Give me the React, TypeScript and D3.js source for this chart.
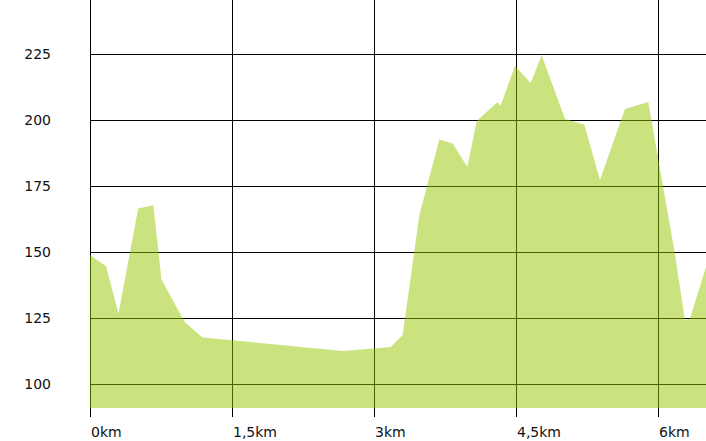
import React from "react";
import * as d3 from "d3";

const distanceKm = [0, 0.169, 0.301, 0.509, 0.669, 0.755, 1.0, 1.188, 2.676, 3.176, 3.303, 3.479, 3.69, 3.831, 3.986, 4.085, 4.302, 4.338, 4.489, 4.655, 4.771, 5.018, 5.221, 5.387, 5.651, 5.897, 6.169, 6.285, 6.338, 6.507];
const elevation = [148.9, 144.7, 126.8, 166.5, 167.8, 139.7, 123.6, 117.7, 112.6, 114.1, 118.6, 164, 192.7, 191.2, 182.3, 199.7, 206.8, 205.5, 220.5, 214.1, 224.6, 200.4, 198.4, 177.3, 204.2, 206.9, 151.4, 124.2, 124.9, 144.4];
const yTicks = [100, 125, 150, 175, 200, 225];
const xTicks = [0, 1.5, 3, 4.5, 6];
const xTickLabels = ["0km", "1,5km", "3km", "4,5km", "6km"];

const W = 706;
const H = 441;

export default function App() {
  const x = d3.scaleLinear().domain([0, 6.507]).range([90, 706]);
  const y = d3.scaleLinear().domain([91, 245.5]).range([408, 0]);
  const data = distanceKm.map((d, i) => ({ d, e: elevation[i] }));
  const area = d3
    .area<{ d: number; e: number }>()
    .x((p) => x(p.d))
    .y0(y(91))
    .y1((p) => y(p.e));
  const font = "DejaVu Sans, sans-serif";
  return (
    <div style={{ position: "fixed", left: 0, top: 0 }}>
      <svg width={W} height={H} style={{ display: "block" }}>
        <rect width={W} height={H} fill="#fff" />
        {yTicks.map((t) => (
          <g key={"y" + t}>
            <line x1={90} x2={706} y1={Math.round(y(t)) + 0.5} y2={Math.round(y(t)) + 0.5} stroke="#000" strokeWidth={1} />
            <text x={51} y={Math.round(y(t))} dy="0.35em" textAnchor="end" fontFamily={font} fontSize={14} fill="#111">
              {t}
            </text>
          </g>
        ))}
        {xTicks.map((t, i) => (
          <g key={"x" + t}>
            <line x1={Math.round(x(t)) + 0.5} x2={Math.round(x(t)) + 0.5} y1={0} y2={417} stroke="#000" strokeWidth={1} />
            <text x={Math.round(x(t)) + 1} y={437} textAnchor="start" fontFamily={font} fontSize={14} fill="#111">
              {xTickLabels[i]}
            </text>
          </g>
        ))}
        <path d={area(data) || ""} fill="rgb(150,200,0)" fillOpacity={0.5} />
      </svg>
    </div>
  );
}
